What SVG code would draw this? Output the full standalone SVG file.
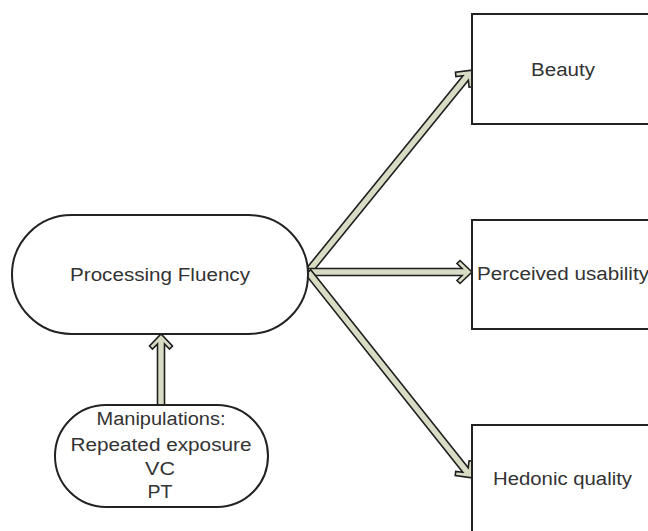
<svg xmlns="http://www.w3.org/2000/svg" width="648" height="531" viewBox="0 0 648 531">
<style>
.box{fill:#fff;stroke:#222;stroke-width:2}
.arr{fill:#d9dcc4;stroke:#1e1e1e;stroke-width:1.6;stroke-linejoin:miter}
text{font-family:"Liberation Sans",Arial,sans-serif;font-size:18px;fill:#333}
</style>
<rect width="648" height="531" fill="#fff"/>
<g id="connectors">
<polygon class="arr" transform="translate(308,272) rotate(-50.9)" points="0,-3.5 250,-3.5 245,-8.5 248,-11.5 260,0 248,11.5 245,8.5 250,3.5 0,3.5"/>
<polygon class="arr" transform="translate(308,272)" points="0,-3.5 154,-3.5 149,-8.5 152,-11.5 164,0 152,11.5 149,8.5 154,3.5 0,3.5"/>
<polygon class="arr" transform="translate(308,272) rotate(51.5)" points="0,-3.5 253,-3.5 248,-8.5 251,-11.5 263,0 251,11.5 248,8.5 253,3.5 0,3.5"/>
<polygon class="arr" transform="translate(161,405) rotate(-90)" points="0,-3.5 61,-3.5 56,-8.5 59,-11.5 71,0 59,11.5 56,8.5 61,3.5 0,3.5"/>
</g>
<g id="fluency">
<rect class="box" x="12" y="215" width="296" height="119" rx="59.5" ry="59.5"/>
<text x="160" y="281" text-anchor="middle" textLength="180" lengthAdjust="spacingAndGlyphs">Processing Fluency</text>
</g>
<g id="manipulations">
<rect class="box" x="55" y="405" width="213" height="102" rx="51" ry="51"/>
<text x="161" y="425" text-anchor="middle" textLength="129" lengthAdjust="spacingAndGlyphs">Manipulations:</text>
<text x="161" y="451" text-anchor="middle" textLength="181" lengthAdjust="spacingAndGlyphs">Repeated exposure</text>
<text x="160" y="475" text-anchor="middle" textLength="30" lengthAdjust="spacingAndGlyphs">VC</text>
<text x="160" y="498" text-anchor="middle" textLength="25" lengthAdjust="spacingAndGlyphs">PT</text>
</g>
<g id="beauty">
<rect class="box" x="472" y="14" width="190" height="110"/>
<text x="531" y="76" textLength="64" lengthAdjust="spacingAndGlyphs">Beauty</text>
</g>
<g id="usability">
<rect class="box" x="472" y="220" width="190" height="109"/>
<text x="477" y="280" textLength="172" lengthAdjust="spacingAndGlyphs">Perceived usability</text>
</g>
<g id="hedonic">
<rect class="box" x="472" y="425" width="190" height="120"/>
<text x="493" y="485" textLength="139" lengthAdjust="spacingAndGlyphs">Hedonic quality</text>
</g>
</svg>
